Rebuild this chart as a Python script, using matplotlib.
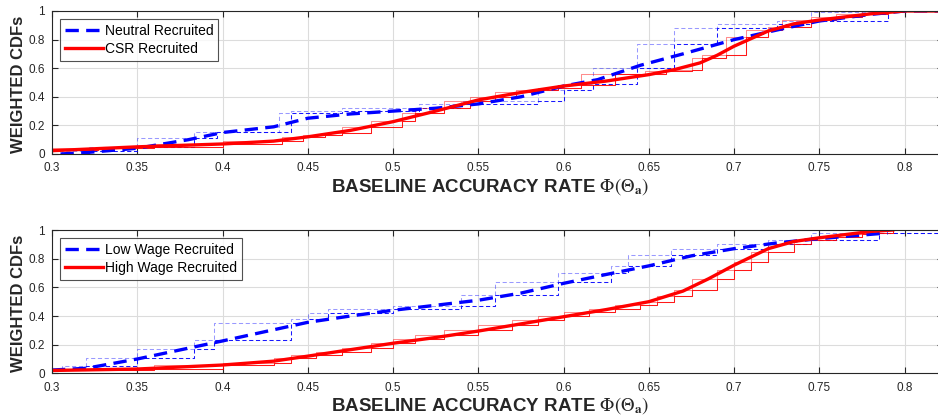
import matplotlib.pyplot as plt

plt.rcParams['font.family'] = ['Liberation Sans', 'DejaVu Sans']
plt.rcParams['mathtext.fontset'] = 'stix'

# ---- top panel: neutral vs CSR (smoothed CDFs) ----
neutral_x = [0.305, 0.32, 0.35, 0.38, 0.40, 0.43, 0.45, 0.475, 0.50, 0.525, 0.55, 0.575, 0.60, 0.62, 0.645, 0.67, 0.70, 0.73, 0.75, 0.78, 0.80, 0.82]
neutral_y = [0.0, 0.01, 0.04, 0.10, 0.15, 0.19, 0.25, 0.28, 0.30, 0.32, 0.35, 0.40, 0.475, 0.52, 0.62, 0.70, 0.80, 0.88, 0.93, 0.976, 1.0, 1.0]
csr_x = [0.30, 0.35, 0.40, 0.43, 0.45, 0.475, 0.50, 0.525, 0.55, 0.575, 0.60, 0.625, 0.65, 0.665, 0.68, 0.69, 0.70, 0.72, 0.735, 0.75, 0.78, 0.80, 0.82]
csr_y = [0.023, 0.05, 0.07, 0.09, 0.12, 0.165, 0.226, 0.30, 0.378, 0.43, 0.475, 0.51, 0.555, 0.59, 0.637, 0.69, 0.754, 0.86, 0.91, 0.937, 0.98, 1.0, 1.0]

# empirical (step) CDFs
neutral_step_x = [0.306, 0.322, 0.35, 0.383, 0.397, 0.433, 0.44, 0.47, 0.515, 0.54, 0.585, 0.60, 0.617, 0.643, 0.665, 0.69, 0.725, 0.745, 0.79, 0.80, 0.82]
neutral_step_y = [0.0, 0.02, 0.05, 0.11, 0.155, 0.155, 0.29, 0.30, 0.32, 0.35, 0.37, 0.45, 0.49, 0.60, 0.77, 0.88, 0.91, 0.93, 0.99, 1.0, 1.0]
csr_step_x = [0.300, 0.327, 0.36, 0.40, 0.435, 0.447, 0.46, 0.47, 0.487, 0.505, 0.513, 0.53, 0.545, 0.56, 0.572, 0.585, 0.597, 0.61, 0.63, 0.648, 0.66, 0.675, 0.681, 0.695, 0.707, 0.72, 0.728, 0.745, 0.76, 0.775, 0.79]
csr_step_y = [0.025, 0.04, 0.05, 0.07, 0.09, 0.12, 0.13, 0.15, 0.19, 0.23, 0.29, 0.32, 0.37, 0.40, 0.43, 0.45, 0.46, 0.48, 0.56, 0.56, 0.58, 0.59, 0.67, 0.69, 0.82, 0.87, 0.89, 0.94, 0.96, 0.98, 1.0]

# ---- bottom panel: low vs high wage ----
low_x = [0.30, 0.32, 0.35, 0.40, 0.45, 0.475, 0.50, 0.525, 0.55, 0.575, 0.60, 0.625, 0.65, 0.675, 0.70, 0.725, 0.75, 0.78, 0.79]
low_y = [0.023, 0.035, 0.10, 0.226, 0.356, 0.40, 0.44, 0.475, 0.51, 0.56, 0.628, 0.69, 0.75, 0.82, 0.87, 0.91, 0.94, 0.97, 0.98]
high_x = [0.30, 0.35, 0.40, 0.43, 0.45, 0.475, 0.50, 0.525, 0.55, 0.575, 0.60, 0.625, 0.65, 0.67, 0.685, 0.70, 0.72, 0.735, 0.75, 0.78, 0.793]
high_y = [0.02, 0.03, 0.058, 0.085, 0.12, 0.165, 0.21, 0.25, 0.295, 0.345, 0.395, 0.445, 0.50, 0.574, 0.66, 0.755, 0.87, 0.92, 0.946, 0.99, 1.0]

low_step_x = [0.306, 0.32, 0.35, 0.383, 0.395, 0.44, 0.45, 0.462, 0.50, 0.54, 0.56, 0.597, 0.628, 0.638, 0.663, 0.69, 0.72, 0.745, 0.785, 0.82]
low_step_y = [0.02, 0.05, 0.11, 0.17, 0.23, 0.35, 0.38, 0.42, 0.45, 0.47, 0.55, 0.64, 0.70, 0.75, 0.825, 0.87, 0.90, 0.93, 0.977, 0.977]
high_step_x = [0.30, 0.36, 0.40, 0.43, 0.44, 0.455, 0.47, 0.487, 0.50, 0.513, 0.53, 0.55, 0.57, 0.585, 0.60, 0.615, 0.63, 0.645, 0.655, 0.665, 0.675, 0.69, 0.70, 0.71, 0.72, 0.735, 0.745, 0.76, 0.775, 0.785, 0.793]
high_step_y = [0.02, 0.03, 0.055, 0.07, 0.11, 0.13, 0.15, 0.18, 0.21, 0.24, 0.27, 0.30, 0.34, 0.37, 0.40, 0.43, 0.45, 0.48, 0.50, 0.54, 0.58, 0.66, 0.72, 0.78, 0.85, 0.90, 0.93, 0.95, 0.97, 0.98, 1.0]

panels = [
    (neutral_x, neutral_y, neutral_step_x, neutral_step_y, 'Neutral Recruited',
     csr_x, csr_y, csr_step_x, csr_step_y, 'CSR Recruited'),
    (low_x, low_y, low_step_x, low_step_y, 'Low Wage Recruited',
     high_x, high_y, high_step_x, high_step_y, 'High Wage Recruited'),
]

xticks = [0.3, 0.35, 0.4, 0.45, 0.5, 0.55, 0.6, 0.65, 0.7, 0.75, 0.8]
xticklabels = ['0.3', '0.35', '0.4', '0.45', '0.5', '0.55', '0.6', '0.65', '0.7', '0.75', '0.8']
yticks = [0, 0.2, 0.4, 0.6, 0.8, 1]
yticklabels = ['0', '0.2', '0.4', '0.6', '0.8', '1']

fig = plt.figure(figsize=(9.38, 4.19), dpi=100)
boxes = [[0.0554, 0.6325, 0.95, 0.3413], [0.0554, 0.109, 0.95, 0.342]]
dark = '#262626'

for box, p in zip(boxes, panels):
    bx, by, bsx, bsy, blab, rx, ry, rsx, rsy, rlab = p
    ax = fig.add_axes(box)
    # thin step curves: dark 'post' step, lighter 'pre' step
    ax.step(bsx, bsy, where='post', color='blue', lw=0.75, ls=(0, (4, 2.5)), alpha=0.9)
    ax.step(bsx, bsy, where='pre', color='blue', lw=0.75, ls=(0, (4, 2.5)), alpha=0.4)
    ax.step(rsx, rsy, where='post', color='red', lw=0.75, alpha=0.9)
    ax.step(rsx, rsy, where='pre', color='red', lw=0.75, alpha=0.45)
    ax.plot(bx, by, color='blue', lw=2.4, ls=(0, (4, 2.2)), label=blab)
    ax.plot(rx, ry, color='red', lw=2.4, label=rlab)

    ax.set_xlim(0.3, 0.8225)
    ax.set_ylim(0, 1)
    ax.set_xticks(xticks)
    ax.set_xticklabels(xticklabels)
    ax.set_yticks(yticks)
    ax.set_yticklabels(yticklabels)
    ax.tick_params(direction='in', length=4, width=0.8, colors=dark, labelsize=8.5,
                   top=True, right=True)
    ax.tick_params(axis='x', pad=6)
    ax.tick_params(axis='y', pad=5)
    ax.grid(color='#dcdcdc', lw=0.8)
    ax.set_axisbelow(True)
    for s in ax.spines.values():
        s.set_color(dark)
        s.set_linewidth(0.8)

    ax.set_xlabel('BASELINE ACCURACY RATE ' + r'$\Phi(\Theta_{\mathbf{a}})$',
                  fontsize=13.5, fontweight='bold', color=dark)
    ax.set_ylabel('WEIGHTED CDFs', fontsize=12, fontweight='bold', color=dark)
    ax.xaxis.set_label_coords((490 - 52) / (0.95 * 938), -0.155)
    ax.yaxis.set_label_coords(-0.029, 0.49)

    leg = ax.legend(loc='upper left', fontsize=10, frameon=True, fancybox=False,
                    edgecolor=dark, handlelength=2.7, borderpad=0.35,
                    labelspacing=0.25, handletextpad=0.15, borderaxespad=0.6)
    leg.get_frame().set_linewidth(0.8)

fig.savefig('out.png', dpi=100)
